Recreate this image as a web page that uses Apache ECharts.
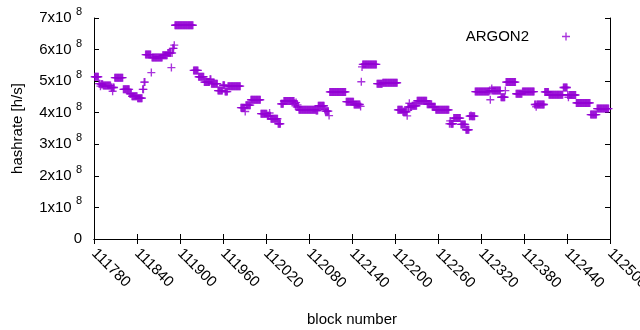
<!DOCTYPE html>
<html>
<head>
<meta charset="utf-8">
<script src="https://cdn.jsdelivr.net/npm/echarts@6/dist/echarts.min.js"></script>
<style>
html,body{margin:0;padding:0;background:#fff;}
#chart{width:640px;height:330px;}
</style>
</head>
<body>
<div id="chart"></div>
<script>
// ---- data ----
const seriesName = 'ARGON2';
const firstBlock = 111781;          // one point per block, consecutive
const xMin = 111780, xMax = 112500, xStep = 60;
const yMin = 0, yMax = 7, yStep = 1;  // units of 10^8 h/s
// hashrate per block, in units of 10^8 h/s
const hashrateE8 = [
5.14,5.14,5.14,5.14,5.14,5.14,
4.92,4.92,4.84,4.90,4.90,4.90,
4.86,4.86,4.86,4.86,4.86,4.86,4.86,4.86,4.86,4.86,4.86,
4.80,4.80,4.68,4.80,4.80,
5.11,5.11,5.11,5.11,5.11,5.11,5.11,5.11,5.11,5.11,5.11,5.11,
4.74,4.74,4.74,4.74,4.74,4.74,4.74,4.74,4.74,
4.60,4.60,4.60,
4.52,4.52,4.52,4.52,4.52,4.52,4.52,4.52,
4.46,4.46,4.46,4.46,4.46,4.46,4.46,
4.74,4.74,4.97,4.97,
5.84,5.84,5.84,5.84,5.84,5.84,5.84,5.84,
5.27,
5.75,5.75,5.75,5.75,5.75,5.75,5.75,5.75,5.75,5.75,5.75,5.75,5.75,5.75,5.75,
5.82,5.82,5.82,5.82,5.82,5.82,5.82,
5.89,5.89,5.89,5.89,5.89,5.43,5.89,
6.04,6.04,6.14,
6.77,6.77,6.77,6.77,6.77,6.77,6.77,6.77,6.77,6.77,
6.77,6.77,6.77,6.77,6.77,6.77,6.77,6.77,6.77,6.77,
6.77,6.77,6.77,6.77,6.77,6.77,
5.34,5.34,5.34,5.34,5.34,5.34,5.34,
5.14,5.14,5.14,5.14,5.14,5.14,5.14,5.14,
4.97,4.97,4.97,4.97,4.97,4.97,4.97,4.97,5.06,5.06,
4.92,4.92,4.92,4.92,4.92,4.92,4.92,4.92,4.92,
4.70,4.70,4.70,4.70,4.70,4.70,4.70,
4.87,4.87,4.87,4.67,4.67,4.67,4.67,
4.84,4.84,4.84,4.84,4.84,4.84,4.84,4.84,4.84,4.84,
4.84,4.84,4.84,4.84,4.84,4.84,4.84,4.84,
4.16,4.16,4.16,4.16,4.16,4.16,4.04,
4.24,4.24,4.24,4.24,4.24,4.24,4.24,
4.41,4.41,4.41,4.41,4.41,4.41,4.41,4.41,4.41,4.41,4.41,4.41,4.41,4.41,
3.97,3.97,3.97,3.97,3.97,3.97,3.97,3.97,3.97,
3.90,3.90,3.90,3.99,3.90,
3.81,3.81,3.81,3.81,3.81,3.81,3.81,3.81,3.81,3.81,
3.65,3.65,3.65,3.65,
4.28,4.28,4.28,4.28,
4.37,4.37,4.37,4.37,4.37,4.37,4.37,4.37,4.37,4.37,4.37,4.37,4.37,4.37,4.37,
4.30,4.22,4.32,4.18,4.25,4.18,
4.09,4.09,4.09,4.09,4.09,4.09,4.09,4.09,4.09,4.09,
4.09,4.09,4.09,4.09,4.09,4.09,4.09,4.09,4.09,4.09,
4.09,4.09,4.09,4.09,
4.07,4.07,4.07,
4.22,4.22,4.22,4.22,4.22,4.22,4.22,4.22,4.22,
4.10,4.05,4.05,4.05,4.05,4.05,3.91,
4.66,4.66,4.66,4.66,4.66,4.66,4.66,4.66,4.66,4.66,
4.66,4.66,4.66,4.66,4.66,4.66,4.66,4.66,4.66,4.66,
4.66,4.66,4.66,
4.35,4.35,4.35,4.35,4.35,4.35,4.35,4.35,4.35,4.35,4.35,
4.26,4.26,4.26,4.26,4.26,4.26,4.26,4.26,4.26,4.20,
4.98,5.45,
5.53,5.53,5.53,5.53,5.53,5.53,5.53,5.53,5.53,5.53,
5.53,5.53,5.53,5.53,5.53,5.53,5.53,5.53,5.53,5.53,
4.92,4.92,4.92,4.92,4.92,4.92,4.92,4.92,
4.95,4.95,4.95,4.95,4.95,4.95,4.95,4.95,4.95,4.95,
4.95,4.95,4.95,4.95,4.95,4.95,4.95,4.95,4.95,4.95,4.95,
4.09,4.09,4.09,4.09,4.09,4.09,4.09,
4.03,4.03,4.03,4.03,4.03,4.03,3.90,
4.18,4.18,4.30,4.18,4.18,4.18,
4.22,4.22,4.22,4.22,4.22,4.22,4.22,
4.38,4.38,4.38,4.38,4.38,4.38,4.38,4.38,4.38,4.38,4.38,4.38,4.38,4.38,
4.27,4.27,4.27,4.27,4.27,4.27,4.27,
4.19,4.19,4.19,4.19,4.19,
4.09,4.09,4.09,4.09,4.09,4.09,4.09,4.09,4.09,4.09,
4.09,4.09,4.09,4.09,4.09,4.09,4.09,4.09,4.09,
3.65,3.74,3.65,3.65,3.65,3.65,
3.83,3.83,3.83,3.83,3.83,3.83,3.83,3.83,3.83,3.83,
3.63,3.63,3.63,3.63,3.63,3.63,3.63,
3.46,3.46,3.46,3.46,3.46,
3.89,3.89,3.91,3.89,3.89,3.89,3.89,3.89,
4.67,4.67,4.67,4.67,4.67,4.67,4.67,4.67,4.67,4.67,
4.67,4.67,4.67,4.67,4.67,4.67,4.67,4.67,4.67,4.67,
4.70,4.41,4.70,4.77,
4.70,4.70,4.70,4.70,4.70,4.70,4.70,4.70,4.70,4.70,4.70,4.70,
4.49,4.49,4.49,4.49,4.49,4.49,
4.70,
4.97,4.97,4.97,4.97,4.97,4.97,4.97,4.97,4.97,4.97,4.97,4.97,4.97,4.97,
4.60,4.60,4.60,4.60,4.60,4.60,4.60,4.60,4.60,
4.67,4.67,4.67,4.67,4.67,4.67,4.67,4.67,4.67,4.67,
4.67,4.67,4.67,4.67,4.67,4.67,4.67,
4.26,4.26,4.19,
4.26,4.26,4.26,4.26,4.26,4.26,4.26,4.26,4.26,4.26,4.26,
4.66,4.66,4.66,4.66,4.66,4.66,
4.57,4.57,4.57,4.57,4.57,4.57,4.57,4.57,4.57,4.57,
4.57,4.57,4.57,4.57,4.57,4.57,4.57,4.57,4.57,4.57,
4.80,4.80,4.80,4.80,4.80,4.80,
4.56,4.49,
4.56,4.56,4.56,4.56,4.56,4.56,4.56,4.56,4.56,4.56,
4.31,4.31,4.31,4.31,4.31,4.31,4.31,4.31,4.31,4.31,
4.31,4.31,4.31,4.31,4.31,4.31,4.31,4.31,4.31,4.31,
3.94,3.94,3.94,3.94,3.94,3.94,3.94,3.94,3.94,
4.13,4.13,4.13,4.13,4.13,4.13,4.13,4.13,4.13,4.13,
4.13,4.13,4.13,4.13,4.13,4.13,4.13
];
const xAxisTitle = 'block number';
const yAxisTitle = 'hashrate [h/s]';

// ---- chart ----
const FONT = 'Liberation Sans';
const COLOR = '#9400d3';
const PLUS = 'path://M8.3,0h3.4v8.3h8.3v3.4h-8.3v8.3h-3.4v-8.3h-8.3v-3.4h8.3z';

const points = hashrateE8.map((v, i) => [firstBlock + i, v]);

const axisLineStyle = {show: true, lineStyle: {color: '#000', width: 1}};
const tickStyle = {show: true, inside: true, length: 5, lineStyle: {color: '#000', width: 1}};

const chart = echarts.init(document.getElementById('chart'), null, {renderer: 'canvas'});
chart.setOption({
  animation: false,
  backgroundColor: '#fff',
  textStyle: {fontFamily: FONT},
  grid: {left: 94, right: 30, top: 18, bottom: 91, containLabel: false, outerBoundsMode: 'none'},
  legend: {
    data: [seriesName],
    right: 65, top: 24,
    align: 'right',
    icon: PLUS,
    itemWidth: 8, itemHeight: 8,
    itemGap: 0,
    formatter: n => '{t|' + n + '}',
    textStyle: {fontFamily: FONT, fontSize: 15, color: '#000',
      rich: {t: {fontFamily: FONT, fontSize: 15, color: '#000', padding: [0, 28, 0, 0]}}}
  },
  xAxis: [{
    type: 'value', min: xMin, max: xMax, interval: xStep,
    name: xAxisTitle, nameLocation: 'middle', nameGap: 73,
    nameTextStyle: {fontFamily: FONT, fontSize: 15, color: '#000'},
    axisLine: axisLineStyle, axisTick: tickStyle, splitLine: {show: false},
    axisLabel: {show: true, rotate: -45, margin: 12, fontFamily: FONT, fontSize: 15, color: '#000',
      showMinLabel: true, showMaxLabel: true, formatter: v => String(v)}
  }, {
    type: 'value', position: 'top', min: xMin, max: xMax, interval: xStep,
    axisLine: axisLineStyle, axisTick: tickStyle, splitLine: {show: false}, axisLabel: {show: false}
  }],
  yAxis: [{
    type: 'value', min: yMin, max: yMax, interval: yStep,
    name: yAxisTitle, nameLocation: 'middle', nameGap: 69,
    nameTextStyle: {fontFamily: FONT, fontSize: 15, color: '#000'},
    axisLine: axisLineStyle, axisTick: tickStyle, splitLine: {show: false},
    axisLabel: {show: true, margin: 12, color: '#000',
      formatter: v => v === 0 ? '{a|0}' : '{a|' + v + 'x10 }{b|8}',
      rich: {
        a: {fontFamily: FONT, fontSize: 15, color: '#000'},
        b: {fontFamily: FONT, fontSize: 11, color: '#000', padding: [0, 0, 12, 0]}
      }}
  }, {
    type: 'value', position: 'right', min: yMin, max: yMax, interval: yStep,
    axisLine: axisLineStyle, axisTick: tickStyle, splitLine: {show: false}, axisLabel: {show: false}
  }],
  series: [{
    name: seriesName,
    type: 'scatter',
    data: points,
    symbol: PLUS,
    symbolSize: 8,
    clip: false,
    itemStyle: {color: COLOR},
    emphasis: {disabled: true}
  }]
});
</script>
</body>
</html>
